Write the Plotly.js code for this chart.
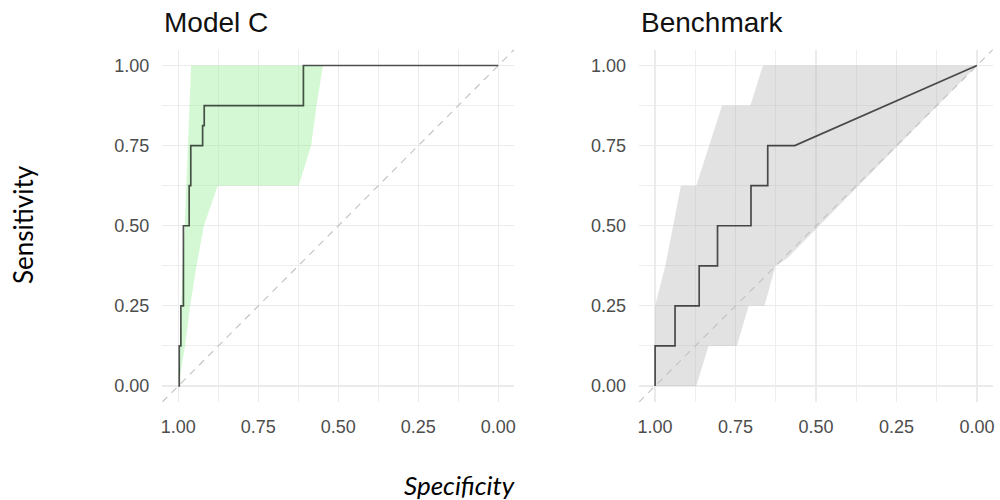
<!DOCTYPE html>
<html>
<head>
<meta charset="utf-8">
<script src="https://cdn.plot.ly/plotly-3.0.1.min.js"></script>
<style>html,body{margin:0;padding:0;background:#fff;}#chart{width:1000px;height:500px;}</style>
</head>
<body>
<div id="chart"></div>
<script>
// ---- Data ----
const panelTitles = ["Model C", "Benchmark"];
const tickVals = [0, 0.25, 0.5, 0.75, 1];
const tickText = ["0.00", "0.25", "0.50", "0.75", "1.00"];
const minorVals = [0.125, 0.375, 0.625, 0.875];

// ROC curve, Model C (specificity, sensitivity)
const modelCSpec = [1.000, 0.997, 0.997, 0.992, 0.992, 0.984, 0.984, 0.966, 0.966, 0.961, 0.961, 0.924, 0.924, 0.919, 0.919, 0.609, 0.609, 0.000];
const modelCSens = [0.000, 0.000, 0.125, 0.125, 0.250, 0.250, 0.500, 0.500, 0.625, 0.625, 0.750, 0.750, 0.8125, 0.8125, 0.875, 0.875, 1.000, 1.000];

// Sensitivity confidence band, Model C (polygon outline)
const modelCBandSpec = [1.000, 0.996, 0.991, 0.986, 0.980, 0.975, 0.970, 0.965, 0.960, 0.548, 0.568, 0.585, 0.624, 0.877, 0.920, 0.943, 0.963, 0.979, 1.000];
const modelCBandSens = [0.000, 0.125, 0.250, 0.375, 0.500, 0.625, 0.750, 0.875, 1.000, 1.000, 0.875, 0.750, 0.625, 0.625, 0.500, 0.375, 0.250, 0.125, 0.000];

// ROC curve, Benchmark
const benchSpec = [1.000, 1.000, 0.938, 0.938, 0.863, 0.863, 0.806, 0.806, 0.702, 0.702, 0.650, 0.650, 0.566, 0.000];
const benchSens = [0.000, 0.125, 0.125, 0.250, 0.250, 0.375, 0.375, 0.500, 0.500, 0.625, 0.625, 0.750, 0.750, 1.000];

// Sensitivity confidence band, Benchmark (polygon outline)
const benchBandSpec = [1.000, 1.000, 0.968, 0.943, 0.920, 0.872, 0.792, 0.704, 0.665, 0.000, 0.590, 0.626, 0.660, 0.709, 0.746, 0.834, 0.872, 1.000];
const benchBandSens = [0.000, 0.250, 0.375, 0.500, 0.625, 0.625, 0.875, 0.875, 1.000, 1.000, 0.398, 0.375, 0.250, 0.250, 0.125, 0.125, 0.000, 0.000];

// Chance line end points (specificity); sensitivity = 1 - specificity
const chanceSpec = [1.05, -0.05];
const chanceSens = chanceSpec.map(v => 1 - v);

// ---- Traces ----
const lineColor = "rgba(0,0,0,0.68)";
function panel(xa, ya, bandX, bandY, bandFill, rocX, rocY) {
  return [
    {x: bandX, y: bandY, xaxis: xa, yaxis: ya, type: "scatter", mode: "lines",
     fill: "toself", fillcolor: bandFill, line: {width: 0}, hoverinfo: "skip"},
    {x: chanceSpec, y: chanceSens, xaxis: xa, yaxis: ya, type: "scatter", mode: "lines",
     line: {color: "#c4c4c4", width: 1.2, dash: "7px,6px"}, hoverinfo: "skip"},
    {x: rocX, y: rocY, xaxis: xa, yaxis: ya, type: "scatter", mode: "lines",
     line: {color: lineColor, width: 1.7}}
  ];
}
const data = [
  ...panel("x", "y", modelCBandSpec, modelCBandSens, "rgba(144,238,144,0.4)", modelCSpec, modelCSens),
  ...panel("x2", "y2", benchBandSpec, benchBandSens, "rgba(180,180,180,0.38)", benchSpec, benchSens)
];

// ---- Layout ----
const tickFont = {family: "Liberation Sans, Arial, sans-serif", size: 18, color: "#4d4d4d"};
function xAxis(domain, anchor) {
  return {domain: domain, anchor: anchor, range: [1.05, -0.05], tickvals: tickVals, ticktext: tickText,
    showgrid: true, gridcolor: "#ebebeb", gridwidth: 1.2, zeroline: false, showline: false,
    ticks: "", ticklabelstandoff: 12, tickfont: tickFont, fixedrange: true,
    minor: {tickvals: minorVals, showgrid: true, gridcolor: "#eeeeee", gridwidth: 1, ticks: ""}};
}
function yAxis(domain, anchor) {
  return {domain: domain, anchor: anchor, range: [-0.05, 1.05], tickvals: tickVals, ticktext: tickText,
    showgrid: true, gridcolor: "#ebebeb", gridwidth: 1.2, zeroline: false, showline: false,
    ticks: "", ticklabelstandoff: 12, tickfont: tickFont, fixedrange: true,
    minor: {tickvals: minorVals, showgrid: true, gridcolor: "#eeeeee", gridwidth: 1, ticks: ""}};
}
const yDom = [0.196, 0.901];
const titleFont = {family: "Liberation Sans, Arial, sans-serif", size: 28, color: "#111111"};
const labelFont = {family: "Lato, Carlito, Calibri, sans-serif", size: 26, color: "#000000"};

const layout = {
  width: 1000, height: 500,
  margin: {l: 0, r: 0, t: 0, b: 0},
  paper_bgcolor: "#ffffff", plot_bgcolor: "#ffffff",
  showlegend: false,
  xaxis: xAxis([0.1623, 0.5143], "y"),
  yaxis: yAxis(yDom, "x"),
  xaxis2: xAxis([0.639, 0.993], "y2"),
  yaxis2: yAxis(yDom, "x2"),
  annotations: [
    {text: panelTitles[0], xref: "x domain", yref: "paper", x: 0, y: 0.956, xanchor: "left", yanchor: "middle",
     showarrow: false, font: titleFont},
    {text: panelTitles[1], xref: "x2 domain", yref: "paper", x: 0, y: 0.956, xanchor: "left", yanchor: "middle",
     showarrow: false, font: titleFont},
    {text: "Sensitivity", xref: "paper", yref: "paper", x: 0.023, y: 0.55, textangle: -90,
     xanchor: "center", yanchor: "middle", showarrow: false, font: labelFont},
    {text: "<i>Specificity</i>", xref: "paper", yref: "paper", x: 0.459, y: 0.03,
     xanchor: "center", yanchor: "middle", showarrow: false, font: labelFont}
  ]
};

Plotly.newPlot("chart", data, layout, {displayModeBar: false, staticPlot: true});
</script>
</body>
</html>
